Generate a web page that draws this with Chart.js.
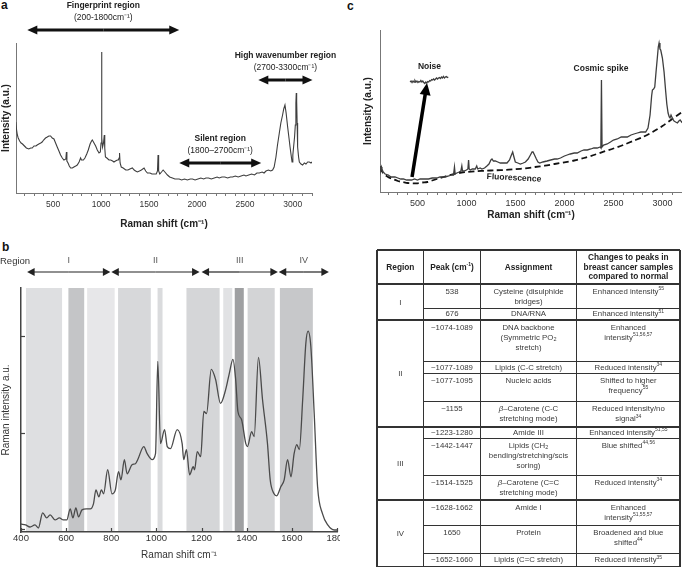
<!DOCTYPE html>
<html><head><meta charset="utf-8">
<script src="https://cdn.jsdelivr.net/npm/chart.js@4.4.1/dist/chart.umd.min.js"></script>
<style>
html,body{margin:0;padding:0;background:#fff;}
body{width:682px;height:569px;position:relative;overflow:hidden;font-family:"Liberation Sans",Arial,Helvetica,sans-serif;color:#222;}
canvas{position:absolute;display:block;}
.pl{position:absolute;font-weight:bold;font-size:12px;line-height:12px;color:#111;}
#tbl{position:absolute;left:0;top:0;width:682px;height:569px;filter:grayscale(1);pointer-events:none;}
#tbl .ln{position:absolute;background:#333;}
#tbl .tx{position:absolute;text-align:center;white-space:nowrap;font-size:7.8px;line-height:10px;color:#3a3a3a;}
#tbl .hd{position:absolute;display:flex;align-items:center;justify-content:center;text-align:center;white-space:nowrap;font-weight:bold;font-size:8.3px;line-height:9.2px;color:#222;}
#tbl .rg{position:absolute;display:flex;align-items:center;justify-content:center;font-size:7.8px;color:#3a3a3a;}
#tbl sup{font-size:5px;line-height:0;vertical-align:0;position:relative;top:-3.5px;}
#tbl sub{font-size:5.5px;line-height:0;vertical-align:0;position:relative;top:1.5px;}
</style></head>
<body>
<div class="pl" style="left:1px;top:-1px;">a</div>
<div class="pl" style="left:347px;top:0px;">c</div>
<div class="pl" style="left:2px;top:241px;">b</div>
<canvas id="ca" width="340" height="235" style="left:0;top:0;"></canvas>
<canvas id="cc" width="342" height="235" style="left:340px;top:0;"></canvas>
<canvas id="cb" width="340" height="329" style="left:0;top:240px;"></canvas>
<div id="tbl"></div>

<script>
// ---------------- Panel a : full spectrum ----------------
const ramanA = [110,118,126,135,150,165,180,200,220,246,
 265,281,300,320,333,350,370,385,400,420,
 438,455,473,490,508,525,542,560,577,595,
 612,632,638,643,655,668,682,700,716,735,
 751,770,786,795,803,815,831,850,866,885,
 900,908,920,943,960,978,992,999,1004,1009,
 1015,1025,1033,1038,1045,1060,1082,1100,1120,1134,
 1150,1169,1180,1187,1192,1198,1210,1230,1257,1280,
 1300,1326,1345,1360,1378,1400,1420,1448,1465,1483,
 1510,1530,1552,1575,1588,1594,1600,1612,1630,1647,
 1665,1692,1715,1744,1770,1790,1814,1840,1870,1900,
 1930,1953,1980,2010,2040,2070,2093,2120,2150,2180,
 2210,2232,2260,2290,2320,2350,2371,2400,2430,2460,
 2490,2511,2540,2570,2600,2625,2650,2680,2700,2720,
 2745,2770,2789,2805,2824,2840,2859,2875,2893,2905,
 2918,2930,2946,2960,2971,2982,2992,3000,3008,3018,
 3026,3032,3036,3040,3045,3050,3060,3068,3085,3102,
 3120,3137,3155,3172,3190,3200];
const intensityA = [71,63,58,55,52,50,49,47,45,44,
 45,45,47,47,48,49,50,51,53,55,
 56,57,57,55,54,50,46,42,38,35,
 33,34,41,32,30,27,25,25,26,27,
 28,31,35,33,33,33,35,39,43,49,
 52,53,51,47,43,40,41,50,141,55,
 46,50,58,45,36,35,33,33,32,31,
 32,33,33,35,40,30,26,25,23,23,
 24,25,23,22,21,22,23,25,22,20,
 20,19,19,19,22,38,22,19,21,23,
 21,18,16,15,14,14,14,13,14,13,
 14,14,13,14,15,14,15,15,14,15,
 16,15,16,16,15,16,16,17,16,17,
 18,17,18,19,18,20,20,21,20,22,
 23,22,23,26,36,48,60,70,78,84,
 88,80,66,55,46,38,31,38,46,56,
 68,90,100,92,70,46,36,31,29,28,
 30,29,31,31,30,31];
const regionTitlesA = ['Fingerprint region','Silent region','High wavenumber region'];
const regionRangesA = ['(200-1800cm\u207B\u00B9)','(1800\u20132700cm\u207B\u00B9)','(2700-3300cm\u207B\u00B9)'];
const regionFromA = [230,1815,2640];
const regionToA = [1815,2670,3205];
const regionLevelA = [163,30,113];

// ---------------- Panel c : spectrum with artefacts ----------------
const ramanC = [118,124,128,133,138,150,170,203,230,271,
 300,330,357,390,420,442,470,500,527,560,
 590,613,650,680,698,730,760,783,820,850,
 868,878,885,902,925,943,953,960,977,1000,
 1015,1022,1028,1039,1060,1090,1105,1115,1140,1158,
 1185,1209,1230,1250,1261,1275,1295,1320,1346,1380,
 1414,1440,1455,1472,1485,1499,1525,1550,1580,1602,
 1630,1653,1670,1680,1695,1714,1730,1748,1780,1823,
 1860,1900,1926,1960,2000,2028,2060,2100,2130,2170,
 2200,2233,2270,2300,2335,2365,2372,2378,2384,2400,
 2437,2470,2500,2540,2580,2610,2642,2680,2710,2744,
 2780,2810,2829,2853,2874,2890,2898,2910,2922,2935,
 2949,2958,2966,2975,2983,3000,3017,3034,3045,3058,
 3070,3078,3088,3095,3105,3119,3135,3153,3168,3181,
 3195,3200];
const intensityC = [26,24,22,25,23,20,18,17,15,15,
 14,13,13,12,12,12,13,12,13,13,
 13,13,14,14,14,15,15,15,16,17,
 17,25,18,19,20,21,26,21,21,22,
 23,32,23,22,23,23,26,23,24,23,
 24,26,28,32,33,31,31,30,29,29,
 29,32,36,40,35,30,29,28,29,30,
 33,37,40,40,37,33,30,29,30,31,
 32,33,33,34,36,37,38,39,39,41,
 42,42,43,44,44,45,44,112,45,47,
 48,50,52,53,55,55,55,57,58,59,
 60,60,60,64,77,96,102,103,105,120,
 135,145,149,143,142,134,120,100,88,79,
 75,74,77,77,73,71,70,69,71,72,
 70,71];
const fluorX = [118,150,200,250,300,350,400,450,500,550,600,650,700,750,800,850,900,950,1000,1100,1200,1300,1400,1500,1600,1700,1800,1900,2000,2100,2200,2300,2400,2500,2600,2700,2800,2900,3000,3100,3200];
const fluorY = [24,19,15,13,11,10,9,8.7,8.7,9.5,10,11.5,13,14.5,16,17.5,18.7,19.5,20,20.8,21.3,21.7,22,22.8,23.7,25,26.3,28,29.7,31.5,34,37,40.3,43.5,47,51,55,60,66,73,80];
const noiseX = [425,435,445,455,465,475,485,495,505,515,525,535,545,555,565,575,585,595,605,615,625,635,645,655,665,675,685,695,705,715,725,735,745,755,765,775,785,795,805,815];
const noiseY = [110,111,109.5,111,110,111.5,110,111,109.5,110.5,110,111.5,110,111,109.5,108.5,110,109,110.5,110,111.5,111,112.5,112,113,112,113,114,113,114,114.5,113.5,115,114,115.5,114,115,115.5,114.5,115];
const labelsC = ['Noise','Cosmic spike','Fluorescence'];
const labelXC = [623,2373,1485];
const labelYC = [125,123,14];
const noiseArrowC = {from:[445,15], to:[598,109]};

// ---------------- Panel b : fingerprint spectrum ----------------
const ramanB = [400,420,440,462,477,496,514,529,551,570,
 588,603,618,630,643,655,670,690,707,721,
 732,745,756,766,784,803,818,832,843,858,
 870,892,907,917,944,959,981,996,1006,1018,
 1036,1048,1062,1092,1114,1121,1133,1147,1163,1169,
 1181,1196,1210,1222,1243,1262,1284,1307,1322,1339,
 1351,1361,1377,1396,1403,1422,1433,1452,1470,1492,
 1504,1521,1533,1551,1566,1581,1596,1610,1622,1633,
 1648,1662,1672,1684,1699,1714,1736,1759,1788,1800];
const intensityB = [8,7,5,7,4,19,14,17,12,14,
 12,12,23,14,24,15,22,23,23,28,
 42,35,42,38,62,38,42,60,52,72,
 58,67,68,72,85,78,72,78,170,88,
 102,85,83,102,88,72,82,57,65,62,
 80,75,120,118,162,152,128,142,157,172,
 152,120,112,88,85,100,95,174,132,88,
 52,38,36,45,52,72,55,78,87,82,
 132,188,200,185,118,45,18,7,2,2];
const bandStart = [422,610,693,830,1005,1133,1296,1347,1404,1547];
const bandEnd   = [582,680,815,975,1027,1280,1336,1387,1524,1693];
const regionNamesB = ['I','II','III','IV'];
const regionStartB = [427,800,1200,1542];
const regionEndB = [796,1191,1538,1764];
const yTicksB = [3,99,195];

// ---------------- Table ----------------
const tblHeader = ['Region','Peak (cm<sup>-1</sup>)','Assignment','Changes to peaks in<br>breast cancer samples<br>compared to normal'];
const tblRegions = ['I','II','III','IV'];
const tblRegionFirstRow = [1,3,7,10];
const tblRegionLastRow = [2,6,9,12];
const tblPeaks = ['538','676','~1074-1089','~1077-1089','~1077-1095','~1155','~1223-1280','~1442-1447','~1514-1525','~1628-1662','1650','~1652-1660'];
const tblAssign = ['Cysteine (disulphide<br>bridges)','DNA/RNA','DNA backbone<br>(Symmetric PO<sub>2</sub><br>stretch)','Lipids (C-C stretch)','Nucleic acids',
  '<i>\u03B2</i>\u2013Carotene (C-C<br>stretching mode)','Amide III','Lipids (CH<sub>2</sub><br>bending/stretching/scis<br>soring)','<i>\u03B2</i>\u2013Carotene (C=C<br>stretching mode)',
  'Amide I','Protein','Lipids (C=C stretch)'];
const tblChanges = ['Enhanced intensity<sup>55</sup>','Enhanced intensity<sup>51</sup>','Enhanced<br>intensity<sup>51,56,57</sup>','Reduced intensity<sup>34</sup>',
  'Shifted to higher<br>frequency<sup>55</sup>','Reduced intensity/no<br>signal<sup>34</sup>','Enhanced intensity<sup>51,55</sup>','Blue shifted<sup>44,56</sup>',
  'Reduced intensity<sup>34</sup>','Enhanced<br>intensity<sup>51,55,57</sup>','Broadened and blue<br>shifted<sup>44</sup>','Reduced intensity<sup>35</sup>'];
// table layout (pixels)
const tblRowLines = [250,284.3,308.3,320,361.7,373.3,401.7,426.7,438.3,475,500,525,553.3,566.7];
const tblColLines = [377,423.7,480.3,576.7,680];

// styles
const bandShades = ['#dedfe1','#c4c5c7','#e7e7e9','#d7d8da','#dadbdd','#d5d6d8','#e1e2e4','#9fa0a2','#d3d4d6','#c7c8ca'];
const FONT = '"Liberation Sans", Arial, Helvetica, sans-serif';
Chart.defaults.font.family = FONT;
Chart.defaults.color = '#222';

const pts = (xs, ys) => xs.map((x, i) => ({x, y: ys[i]}));

function arrow(ctx, x1, y1, x2, y2, lw, hl, hw) {
  const a = Math.atan2(y2 - y1, x2 - x1);
  const bx = x2 - hl * Math.cos(a), by = y2 - hl * Math.sin(a);
  ctx.lineWidth = lw;
  ctx.beginPath(); ctx.moveTo(x1, y1); ctx.lineTo(bx + Math.cos(a), by + Math.sin(a)); ctx.stroke();
  ctx.beginPath(); ctx.moveTo(x2, y2);
  ctx.lineTo(bx + hw * Math.sin(a), by - hw * Math.cos(a));
  ctx.lineTo(bx - hw * Math.sin(a), by + hw * Math.cos(a));
  ctx.closePath(); ctx.fill();
}
function dblArrow(ctx, x1, x2, y, lw, hl, hw) {
  const m = (x1 + x2) / 2;
  arrow(ctx, m, y, x1, y, lw, hl, hw);
  arrow(ctx, m, y, x2, y, lw, hl, hw);
}

const baseOpts = {responsive:false, animation:false, events:[],
  plugins:{legend:{display:false}, tooltip:{enabled:false}}};

// ---- Panel a ----
const annotA = {id:'annotA', afterDraw(chart){
  const {ctx, scales:{x, y}} = chart;
  ctx.save();
  ctx.fillStyle = '#111'; ctx.strokeStyle = '#111';
  ctx.textAlign = 'center'; ctx.textBaseline = 'middle';
  regionTitlesA.forEach((t, i) => {
    const x1 = x.getPixelForValue(regionFromA[i]), x2 = x.getPixelForValue(regionToA[i]);
    const yy = y.getPixelForValue(regionLevelA[i]);
    ctx.fillStyle = '#111';
    dblArrow(ctx, x1, x2, yy, 3, 10, 4.5);
    const cx = (x1 + x2) / 2;
    ctx.font = 'bold 8.5px ' + FONT; ctx.fillStyle = '#222';
    ctx.fillText(t, cx, yy - 24);
    ctx.font = '8.5px ' + FONT;
    ctx.fillText(regionRangesA[i], cx, yy - 12);
  });
  ctx.restore();
}};

new Chart(document.getElementById('ca'), {
  type:'line',
  data:{datasets:[{data:pts(ramanA, intensityA), borderColor:'#3e3e3e', borderWidth:1.1, pointRadius:0, tension:0}]},
  options:{...baseOpts,
    layout:{padding:{top:43, right:28, left:0, bottom:0}},
    scales:{
      x:{type:'linear', min:112, max:3200,
        ticks:{stepSize:100, includeBounds:false, autoSkip:false, maxRotation:0, padding:4, color:'#333', font:{size:8.5},
          callback:v => v % 500 === 0 ? String(v) : ''},
        grid:{drawOnChartArea:false, tickLength:3, color:'#777'},
        border:{color:'#777', width:1},
        title:{display:true, text:'Raman shift (cm\u207B\u00B9)', font:{size:10, weight:'bold'}, color:'#222', padding:{top:0, bottom:5}},
        afterFit:s => {s.height = 42; s.paddingLeft = 0; s.paddingRight = 0;}},
      y:{min:0, max:150, ticks:{display:false}, grid:{display:false},
        border:{color:'#777', width:1},
        title:{display:true, text:'Intensity (a.u.)', font:{size:10, weight:'bold'}, color:'#222', padding:{top:0, bottom:0}},
        afterFit:s => {s.width = 16;}}
    }},
  plugins:[annotA]
});

// ---- Panel c ----
const annotC = {id:'annotC', afterDatasetsDraw(chart){
  const {ctx, scales:{x, y}} = chart;
  ctx.save();
  ctx.fillStyle = '#000'; ctx.strokeStyle = '#000';
  arrow(ctx, x.getPixelForValue(noiseArrowC.from[0]), y.getPixelForValue(noiseArrowC.from[1]),
        x.getPixelForValue(noiseArrowC.to[0]), y.getPixelForValue(noiseArrowC.to[1]), 3.5, 12, 5.5);
  ctx.font = 'bold 8.5px ' + FONT; ctx.fillStyle = '#222';
  ctx.textAlign = 'center'; ctx.textBaseline = 'middle';
  labelsC.forEach((t, i) => {
    const px = x.getPixelForValue(labelXC[i]), py = y.getPixelForValue(labelYC[i]);
    ctx.save(); ctx.translate(px, py);
    if (i === 2) ctx.rotate(0.05);
    ctx.fillText(t, 0, 0); ctx.restore();
  });
  ctx.restore();
}};

new Chart(document.getElementById('cc'), {
  type:'line',
  data:{datasets:[
    {data:pts(ramanC, intensityC), borderColor:'#3e3e3e', borderWidth:1.3, pointRadius:0, tension:0},
    {data:pts(fluorX, fluorY), borderColor:'#111', borderWidth:1.8, borderDash:[6,3.5], pointRadius:0, tension:0.3},
    {data:pts(noiseX, noiseY), borderColor:'#3e3e3e', borderWidth:1.3, pointRadius:0, tension:0}
  ]},
  options:{...baseOpts,
    layout:{padding:{top:30, right:0, left:0, bottom:0}},
    scales:{
      x:{type:'linear', min:118, max:3200,
        ticks:{stepSize:100, includeBounds:false, autoSkip:false, maxRotation:0, padding:3, color:'#333', font:{size:9},
          callback:v => v % 500 === 0 ? String(v) : ''},
        grid:{drawOnChartArea:false, tickLength:3, color:'#777'},
        border:{color:'#777', width:1},
        title:{display:true, text:'Raman shift (cm\u207B\u00B9)', font:{size:10, weight:'bold'}, color:'#222', padding:{top:0, bottom:14}},
        afterFit:s => {s.height = 43; s.paddingLeft = 0; s.paddingRight = 0;}},
      y:{min:0, max:162, ticks:{display:false}, grid:{display:false},
        border:{color:'#777', width:1},
        title:{display:true, text:'Intensity (a.u.)', font:{size:10, weight:'bold'}, color:'#222', padding:{top:22, bottom:0}},
        afterFit:s => {s.width = 40;}}
    }},
  plugins:[annotC]
});

// ---- Panel b ----
const bandsB = {id:'bandsB', beforeDatasetsDraw(chart){
  const {ctx, chartArea:a, scales:{x}} = chart;
  ctx.save();
  bandStart.forEach((s, i) => {
    const x1 = x.getPixelForValue(s), x2 = x.getPixelForValue(bandEnd[i]);
    ctx.fillStyle = bandShades[i];
    ctx.fillRect(x1, a.top, x2 - x1, a.bottom - a.top - 1);
  });
  ctx.restore();
}};
const regionsB = {id:'regionsB', afterDraw(chart){
  const {ctx, chartArea:a, scales:{x, y}} = chart;
  ctx.save();
  ctx.fillStyle = '#222'; ctx.strokeStyle = '#222';
  const ay = a.top - 16, ty = a.top - 27;
  ctx.font = '9.5px ' + FONT; ctx.textBaseline = 'middle';
  ctx.textAlign = 'left'; ctx.fillStyle = '#333';
  ctx.fillText('Region', 0, ty);
  ctx.textAlign = 'center'; ctx.font = '9px ' + FONT;
  regionNamesB.forEach((n, i) => {
    const x1 = x.getPixelForValue(regionStartB[i]), x2 = x.getPixelForValue(regionEndB[i]);
    ctx.fillStyle = '#222';
    dblArrow(ctx, x1, x2, ay, 1.2, 7.5, 4);
    ctx.fillStyle = '#555';
    ctx.fillText(n, (x1 + x2) / 2, ty);
  });
  // inward tick marks
  ctx.strokeStyle = '#444'; ctx.lineWidth = 1.2;
  yTicksB.forEach(v => {
    const py = Math.round(y.getPixelForValue(v)) + 0.5;
    ctx.beginPath(); ctx.moveTo(a.left, py); ctx.lineTo(a.left + 4, py); ctx.stroke();
  });
  x.ticks.forEach(t => {
    const px = Math.round(x.getPixelForValue(t.value)) + 0.5;
    ctx.beginPath(); ctx.moveTo(px, a.bottom); ctx.lineTo(px, a.bottom - 4); ctx.stroke();
  });
  ctx.restore();
}};

new Chart(document.getElementById('cb'), {
  type:'line',
  data:{datasets:[{data:pts(ramanB, intensityB), borderColor:'#4a4a4a', borderWidth:1.3, pointRadius:0, cubicInterpolationMode:'monotone'}]},
  options:{...baseOpts,
    layout:{padding:{top:48, right:3, left:0, bottom:0}},
    scales:{
      x:{type:'linear', min:400, max:1800,
        ticks:{stepSize:200, autoSkip:false, maxRotation:0, padding:1, color:'#333', font:{size:9.5}, callback:v => String(v)},
        grid:{display:false, drawTicks:false},
        border:{color:'#444', width:1.5},
        title:{display:true, text:'Raman shift cm\u207B\u00B9', font:{size:10}, color:'#333', padding:{top:0, bottom:8}},
        afterFit:s => {s.height = 37; s.paddingLeft = 0; s.paddingRight = 0;}},
      y:{min:0, max:243, ticks:{display:false}, grid:{display:false, drawTicks:false},
        border:{color:'#444', width:1.5},
        title:{display:true, text:'Raman intensity a.u.', font:{size:10}, color:'#333', padding:{top:0, bottom:0}},
        afterFit:s => {s.width = 21;}}
    }},
  plugins:[bandsB, regionsB]
});

// ---- Table (HTML) ----
(function buildTable(){
  const host = document.getElementById('tbl');
  const R = tblRowLines, C = tblColLines;
  const add = (cls, css, html) => { const d = document.createElement('div'); d.className = cls; Object.assign(d.style, css); if (html) d.innerHTML = html; host.appendChild(d); return d; };
  const px = v => v + 'px';
  // horizontal lines
  for (let k = 0; k < R.length; k++) {
    const outer = (k === 0 || k === R.length - 1);
    const sec = tblRegionFirstRow.includes(k);
    const t = outer ? 1.5 : (sec ? 2 : 1);
    const x1 = (outer || sec) ? C[0] : C[1];
    add('ln', {left:px(x1), top:px(R[k] - t / 2), width:px(C[C.length - 1] - x1), height:px(t)});
  }
  // vertical lines
  C.forEach((x, i) => {
    const t = (i === 0 || i === C.length - 1) ? 1.5 : 1;
    add('ln', {left:px(x - t / 2), top:px(R[0]), width:px(t), height:px(R[R.length - 1] - R[0])});
  });
  // header
  tblHeader.forEach((h, c) => add('hd', {left:px(C[c]), top:px(R[0]), width:px(C[c + 1] - C[c]), height:px(R[1] - R[0])}, h));
  // regions
  tblRegions.forEach((g, i) => {
    const top = R[tblRegionFirstRow[i]], bot = R[tblRegionLastRow[i] + 1];
    add('rg', {left:px(C[0]), top:px(top), width:px(C[1] - C[0]), height:px(bot - top)}, g);
  });
  // body
  const cols = [tblPeaks, tblAssign, tblChanges];
  tblPeaks.forEach((_, r) => {
    const top = R[r + 1], h = R[r + 2] - R[r + 1];
    const pad = Math.min(2.5, (h - 10) / 2);
    cols.forEach((arr, j) => {
      const c = j + 1;
      add('tx', {left:px(C[c]), top:px(top + pad), width:px(C[c + 1] - C[c])}, arr[r]);
    });
  });
})();
</script>
</body></html>
